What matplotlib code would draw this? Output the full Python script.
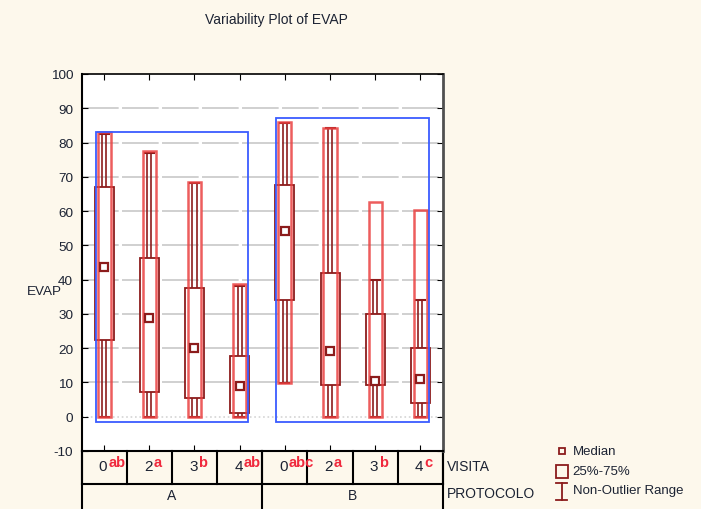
import matplotlib.pyplot as plt
from matplotlib.patches import Rectangle
from matplotlib.lines import Line2D

plt.rcParams['font.family'] = ['Liberation Sans', 'DejaVu Sans']
plt.rcParams['axes.unicode_minus'] = False

# factor levels
visita = ['0', '2', '3', '4', '0', '2', '3', '4']
letras = ['ab', 'a', 'b', 'ab', 'abc', 'a', 'b', 'c']
protocolo = ['A', 'B']

# summary stats per cell
mediana = [43.7, 28.9, 20.0, 9.1, 54.1, 19.1, 10.5, 11.0]
q25 = [22.5, 7.1, 5.4, 1.2, 34.1, 9.2, 9.2, 4.1]
q75 = [66.9, 46.3, 37.6, 17.7, 67.7, 41.8, 30.0, 20.1]
nonout_min = [0, 0, 0, 0, 9.9, 0, 0, 0]
nonout_max = [82.4, 77.0, 68.1, 38.2, 85.8, 84.1, 39.9, 34.1]
rango_min = [0, 0, 0, 0, 9.9, 0, 0, 0]
rango_max = [83.0, 77.5, 68.5, 38.6, 86.1, 84.3, 62.6, 60.4]

# range of each PROTOCOLO group
grupo_min = [-1.4, -1.4]
grupo_max = [83.2, 87.3]

MAROON = '#8c1c1c'
RED = '#ea4040'
BLUE = '#3a5cff'
TXT = '#1c2333'
BG = '#fdf8ec'

fig = plt.figure(figsize=(7.01, 5.10), dpi=100, facecolor=BG)
ax = fig.add_axes([81.5 / 701, 1 - 452 / 510, (443 - 81.5) / 701, (452 - 75) / 510])
ax.set_facecolor('white')
ax.set_xlim(-0.5, 7.5)
ax.set_ylim(-10, 100)

for g in range(10, 100, 10):
    ax.axhline(g, color='#c8c8c8', lw=1.2, dashes=(22, 2), zorder=1)
ax.axhline(0, color='#d4d4d4', lw=1.2, ls=':', zorder=1)

for i in range(len(visita)):
    # non-outlier whisker drawn as a narrow double line with caps
    ax.add_patch(Rectangle((i - 0.045, nonout_min[i]), 0.09, nonout_max[i] - nonout_min[i],
                           fill=False, ec=MAROON, lw=1.2, zorder=2))
    for yv in (nonout_min[i], nonout_max[i]):
        ax.plot([i - 0.1, i + 0.1], [yv, yv], color=MAROON, lw=1.5, zorder=2)
    # 25%-75% box
    ax.add_patch(Rectangle((i - 0.21, q25[i]), 0.42, q75[i] - q25[i],
                           fc='white', ec=MAROON, lw=1.3, zorder=3))
    # full range
    ax.add_patch(Rectangle((i - 0.145, rango_min[i]), 0.29, rango_max[i] - rango_min[i],
                           fill=False, ec=RED, lw=1.8, alpha=0.85, zorder=4))
    ax.plot(i, mediana[i], marker='s', ms=5.5, mfc='white', mec=MAROON, mew=1.6, zorder=5)

for k in range(len(protocolo)):
    x0 = 4 * k - 0.19
    ax.add_patch(Rectangle((x0, grupo_min[k]), 3.38, grupo_max[k] - grupo_min[k],
                           fill=False, ec=BLUE, lw=1.3, zorder=6))

ax.set_yticks(range(-10, 101, 10))
ax.set_xticks(range(len(visita)))
ax.set_xticklabels([])
ax.tick_params(axis='y', direction='in', left=True, right=True, length=4,
               labelsize=9.7, labelcolor=TXT, pad=6)
ax.tick_params(axis='x', direction='in', top=True, bottom=True, length=4)
ax.spines['left'].set_linewidth(1.5)
ax.spines['bottom'].set_linewidth(1.5)
ax.spines['top'].set_linewidth(1.2)
ax.spines['right'].set_linewidth(2)
ax.spines['right'].set_color('#505050')

# category table under the plot
tr = ax.get_xaxis_transform()
r1 = -33 / 377
r2 = -0.25
lk = dict(color='black', lw=1.5, transform=tr, clip_on=False)
ax.add_line(Line2D([-0.5, 7.5], [r1, r1], **lk))
for b in range(9):
    ax.add_line(Line2D([b - 0.5, b - 0.5], [0, r1], **lk))
for b in (-0.5, 3.5, 7.5):
    ax.add_line(Line2D([b, b], [0, r2], **lk))
for i in range(len(visita)):
    ax.text(i + 0.07, -15 / 377, visita[i], transform=tr, ha='right', va='center',
            fontsize=11, color=TXT)
    ax.text(i + 0.09, -11 / 377, letras[i], transform=tr, ha='left', va='center',
            fontsize=10.5, color='#f0283c', fontweight='bold')
for k in range(len(protocolo)):
    ax.text(4 * k + 1.5, -44 / 377, protocolo[k], transform=tr, ha='center', va='center',
            fontsize=10, color=TXT)

# overlay in pixel units for titles and legend
lay = fig.add_axes([0, 0, 1, 1], zorder=-1)
lay.set_xlim(0, 701)
lay.set_ylim(510, 0)
lay.axis('off')
lay.text(276, 20, 'Variability Plot of EVAP', ha='center', va='center', fontsize=10, color=TXT)
lay.text(27, 292, 'EVAP', ha='left', va='center', fontsize=9.7, color=TXT)
lay.text(447, 467, 'VISITA', ha='left', va='center', fontsize=10, color=TXT)
lay.text(447, 494, 'PROTOCOLO', ha='left', va='center', fontsize=10, color=TXT)

lay.add_patch(Rectangle((559, 449), 6, 6, fill=False, ec=MAROON, lw=1.3))
lay.text(573, 452, 'Median', ha='left', va='center', fontsize=9.5, color=TXT)
lay.add_patch(Rectangle((555.5, 466), 12, 13, fill=False, ec=MAROON, lw=1.3))
lay.text(572, 472, '25%-75%', ha='left', va='center', fontsize=9.5, color=TXT)
lay.plot([561.5, 561.5], [484, 501], color=MAROON, lw=1.3)
lay.plot([556, 567], [484, 484], color=MAROON, lw=1.3)
lay.plot([556, 567], [501, 501], color=MAROON, lw=1.3)
lay.text(573, 491, 'Non-Outlier Range', ha='left', va='center', fontsize=9.5, color=TXT)

fig.savefig('out.png', dpi=100, facecolor=BG)
